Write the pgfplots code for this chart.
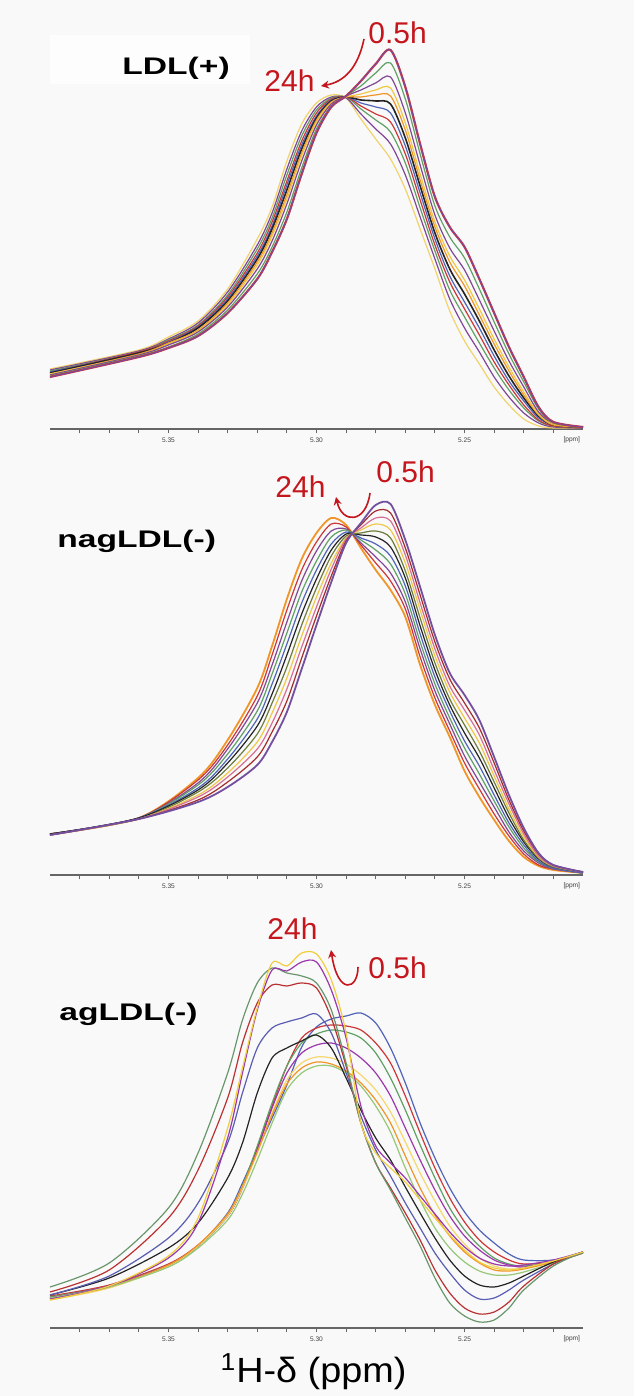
\documentclass[border=0pt]{standalone}
\usepackage{fontspec}
\setmainfont{Liberation Sans}
\usepackage{graphicx}
\usepackage{pgfplots}
\usepackage{pgfplotstable}
\pgfplotsset{compat=1.18}
\usetikzlibrary{arrows.meta}

\definecolor{bg}{RGB}{249,249,249}
\definecolor{box}{RGB}{253,253,253}
\definecolor{lab}{RGB}{196,22,28}
\definecolor{cpur}{RGB}{130,70,150}
\definecolor{cred}{RGB}{205,55,55}
\definecolor{cgrn}{RGB}{95,160,100}
\definecolor{cyel}{RGB}{238,200,70}
\definecolor{cora}{RGB}{240,150,40}
\definecolor{cblu}{RGB}{80,100,185}
\definecolor{cblk}{RGB}{35,35,35}
\definecolor{cpnk}{RGB}{215,110,150}
\definecolor{colv}{RGB}{110,125,60}
\definecolor{clgr}{RGB}{150,200,120}
\definecolor{cpyl}{RGB}{245,215,110}

% LDL(+): c0 = 0.5h ... c10 = 24h
\pgfplotstableread{
x c0 c1 c2 c3 c4 c5 c6 c7 c8 c9 c10
5.39 52 53 54 55 55 56 57 57 58 59 60
5.36 72 73 74 74 75 76 76 77 77 78 79
5.35 81 82 84 85 86 86 87 88 89 90 92
5.34 93 95 97 98 99 101 102 103 104 106 108
5.33 116 119 122 124 126 128 130 132 134 137 140
5.32 150 155 160 164 167 170 173 176 180 184 190
5.315 177 182 188 193 196 200 203 207 211 216 222
5.31 210 217 225 230 234 239 244 248 254 260 268
5.305 255 261 268 273 276 280 284 288 293 298 305
5.30 296 300 304 307 309 311 313 316 319 322 326
5.295 322 323 325 326 327 328 329 330 331 332 334
5.29 333 333 333 332 332 332 332 332 332 331 331
5.285 348 343 339 335 332 329 326 323 320 315 310
5.28 365 356 346 339 334 328 322 315 309 300 290
5.275 379 366 352 341 333 325 316 307 297 285 270
5.27 342 330 316 306 299 291 283 275 266 254 240
5.265 285 275 264 255 249 243 236 229 221 212 200
5.26 232 223 214 207 202 196 190 184 178 170 160
5.255 202 192 181 173 167 160 153 147 139 130 118
5.25 182 171 159 149 143 135 127 120 112 101 88
5.245 150 140 129 120 114 108 101 94 86 77 65
5.24 116 107 98 90 85 79 73 67 61 52 42
5.235 82 75 68 62 58 53 48 44 39 32 24
5.23 52 47 42 37 34 31 28 24 21 16 10
5.225 22 20 17 15 14 13 11 9 8 6 3
5.22 7 6 6 5 4 4 4 3 3 2 1
5.21 2 2 2 2 2 2 1 1 1 1 1
}\tabA

% nagLDL(-)
\pgfplotstableread{
x c0 c1 c2 c3 c4 c5 c6 c7 c8 c9 c10
5.39 40 40 40 40 40 41 41 41 41 41 41
5.36 56 56 56 56 56 57 57 57 57 57 57
5.34 73 75 78 80 83 85 87 90 92 95 97
5.33 88 93 98 102 107 112 116 121 126 130 135
5.32 110 118 126 133 141 149 156 164 172 179 187
5.315 133 143 152 162 172 181 191 201 210 220 229
5.31 163 174 186 197 208 220 231 242 253 265 276
5.305 206 217 228 239 250 261 272 283 294 305 316
5.30 250 259 268 278 287 296 305 314 324 333 342
5.295 293 299 306 312 319 325 331 338 344 351 357
5.29 332 334 336 337 339 341 343 345 346 348 350
5.285 352 350 347 345 342 340 337 335 332 330 327
5.28 370 364 357 351 344 338 331 325 318 312 305
5.275 371 362 354 345 337 328 319 311 302 294 285
5.27 335 327 320 312 304 297 289 281 273 266 258
5.265 288 280 272 265 257 249 241 233 226 218 210
5.26 240 233 226 219 212 205 198 191 184 177 170
5.255 202 196 189 183 176 170 164 157 151 144 138
5.25 180 172 165 157 150 142 134 127 119 112 104
5.245 155 147 140 132 124 117 109 101 93 86 78
5.24 118 112 105 99 93 87 80 74 68 61 55
5.235 80 75 71 66 62 57 52 48 43 39 34
5.23 47 44 41 38 35 33 30 27 24 21 18
5.225 22 21 19 18 17 16 14 13 12 10 9
5.22 10 10 9 9 8 8 7 7 6 6 5
5.21 3 3 3 3 3 3 2 2 2 2 2
}\tabB

% agLDL(-)
\pgfplotstableread{
x h i j k l m n g f d c b a
5.39 30 32 31 30 28 29 30 33 33 36 41 29 28
5.37 42 43 42 42 40 41 41 50 52 58 65 42 42
5.35 62 64 63 63 62 63 61 80 90 110 120 70 72
5.34 82 83 82 82 82 83 80 105 125 158 175 105 110
5.33 115 112 112 112 112 114 108 150 185 230 255 190 200
5.325 145 140 142 140 140 142 134 185 235 285 308 255 260
5.32 178 180 182 178 175 176 168 235 280 325 345 318 320
5.315 210 222 225 220 215 213 205 270 300 343 360 358 365
5.31 243 262 262 255 248 244 238 280 306 342 355 357 362
5.305 281 290 285 275 265 260 255 287 310 345 352 366 375
5.30 301 300 294 283 271 266 262 293 314 340 345 366 374
5.295 309 303 298 285 270 264 262 280 295 310 318 338 348
5.29 312 302 296 280 264 257 255 250 255 262 265 290 295
5.285 315 298 290 270 253 245 242 218 212 205 205 222 205
5.28 305 285 275 255 238 228 222 190 178 165 165 182 175
5.275 280 265 250 232 216 205 196 168 152 140 138 165 160
5.27 245 232 218 200 186 172 160 141 125 115 110 150 146
5.265 205 195 183 168 155 140 128 115 100 88 82 132 128
5.26 170 160 150 138 127 113 100 90 75 58 50 114 110
5.255 140 130 120 112 102 92 80 68 55 35 25 96 93
5.25 116 106 98 92 84 76 66 52 38 20 12 81 78
5.245 98 88 82 78 70 65 57 43 29 14 6 70 66
5.24 85 76 70 68 62 58 53 41 30 16 8 64 60
5.235 74 68 64 63 59 57 53 45 38 26 20 62 58
5.23 68 64 62 61 60 59 56 52 48 42 38 63 60
5.22 68 66 66 66 66 66 65 66 64 64 62 68 67
5.21 75 75 75 76 76 76 76 76 76 76 76 76 76
}\tabC

\pgfplotsset{
  nmr/.style={
    scale only axis, width=266.5pt, height=200pt,
    xmin=5.21, xmax=5.39, ymin=0, ymax=400, x dir=reverse,
    axis x line=bottom, axis y line=none,
    axis line style={-, draw=black!60, line width=0.6pt},
    xtick={5.25,5.30,5.35},
    minor xtick={5.22,5.23,5.24,5.26,5.27,5.28,5.29,5.31,5.32,5.33,5.34,5.36,5.37,5.38},
    tick align=outside, major tick length=2.2pt, minor tick length=2.2pt,
    tick style={black!60, line width=0.5pt},
    /pgf/number format/assume math mode=true,
    xticklabel style={font=\fontsize{3.3}{4}\selectfont, text=black!75, inner sep=0pt, yshift=-2pt,
      /pgf/number format/fixed, /pgf/number format/fixed zerofill, /pgf/number format/precision=2},
    clip=false, no marks,
    every axis plot/.append style={smooth, line width=0.6pt},
  },
}
\tikzset{ppm/.style={font=\fontsize{3.3}{4}\selectfont, text=black!75, inner sep=0pt}}

\begin{document}
\begin{tikzpicture}
\fill[bg] (0,0) rectangle (317pt,698pt);
\useasboundingbox (0,0) rectangle (317pt,698pt);
\fill[box] (25pt,656pt) rectangle (125pt,680.5pt);

% ---- LDL(+)
\begin{axis}[nmr, at={(25pt,483.5pt)}, anchor=south west]
  \addplot[cyel!80] table[x=x,y=c10]{\tabA};
  \addplot[cpur] table[x=x,y=c9]{\tabA};
  \addplot[cgrn] table[x=x,y=c8]{\tabA};
  \addplot[cred] table[x=x,y=c7]{\tabA};
  \addplot[cblu] table[x=x,y=c6]{\tabA};
  \addplot[cblk, line width=0.8pt] table[x=x,y=c5]{\tabA};
  \addplot[cora] table[x=x,y=c4]{\tabA};
  \addplot[cyel] table[x=x,y=c3]{\tabA};
  \addplot[cpur] table[x=x,y=c2]{\tabA};
  \addplot[cgrn] table[x=x,y=c1]{\tabA};
  \addplot[cred, line width=1.1pt] table[x=x,y=c0]{\tabA};
  \addplot[cpur, line width=0.6pt] table[x=x,y=c0]{\tabA};
  \node[ppm, yshift=-5.5pt] at (rel axis cs:0.979,0) {[ppm]};
\end{axis}

% ---- nagLDL(-)
\begin{axis}[nmr, at={(25pt,260.5pt)}, anchor=south west]
  \addplot[cora, line width=0.9pt] table[x=x,y=c10]{\tabB};
  \addplot[cred] table[x=x,y=c9]{\tabB};
  \addplot[cpur] table[x=x,y=c8]{\tabB};
  \addplot[cgrn] table[x=x,y=c7]{\tabB};
  \addplot[cblu] table[x=x,y=c6]{\tabB};
  \addplot[cblk] table[x=x,y=c5]{\tabB};
  \addplot[colv] table[x=x,y=c4]{\tabB};
  \addplot[cyel] table[x=x,y=c3]{\tabB};
  \addplot[cpnk] table[x=x,y=c2]{\tabB};
  \addplot[cred!80!black] table[x=x,y=c1]{\tabB};
  \addplot[cpur!70!cblu, line width=0.9pt] table[x=x,y=c0]{\tabB};
  \node[ppm, yshift=-5.5pt] at (rel axis cs:0.979,0) {[ppm]};
\end{axis}

% ---- agLDL(-)
\begin{axis}[nmr, at={(25pt,34pt)}, anchor=south west]
  \addplot[cblu] table[x=x,y=h]{\tabC};
  \addplot[cred] table[x=x,y=i]{\tabC};
  \addplot[cgrn] table[x=x,y=j]{\tabC};
  \addplot[cpur!80!magenta] table[x=x,y=k]{\tabC};
  \addplot[cpyl] table[x=x,y=l]{\tabC};
  \addplot[cora] table[x=x,y=m]{\tabC};
  \addplot[clgr] table[x=x,y=n]{\tabC};
  \addplot[cblk] table[x=x,y=g]{\tabC};
  \addplot[cblu!80!cpur] table[x=x,y=f]{\tabC};
  \addplot[cred!90!black] table[x=x,y=d]{\tabC};
  \addplot[cgrn!70!gray] table[x=x,y=c]{\tabC};
  \addplot[cpur!80!magenta] table[x=x,y=b]{\tabC};
  \addplot[cyel!90!yellow] table[x=x,y=a]{\tabC};
  \node[ppm, yshift=-5.5pt] at (rel axis cs:0.979,0) {[ppm]};
\end{axis}

% panel names
\node[anchor=base west, inner sep=0pt] at (61pt,660.5pt) {\scalebox{1.4}[1]{\fontsize{12}{12}\selectfont\bfseries LDL(+)}};
\node[anchor=base west, inner sep=0pt] at (28.5pt,424pt) {\scalebox{1.4}[1]{\fontsize{12}{12}\selectfont\bfseries nagLDL(-)}};
\node[anchor=base west, inner sep=0pt] at (29.5pt,187.5pt) {\scalebox{1.4}[1]{\fontsize{12}{12}\selectfont\bfseries agLDL(-)}};

% time labels and arrows
\begin{scope}[lab, font=\fontsize{15}{15}\selectfont]
  \node[anchor=base west, inner sep=0pt] at (184pt,676pt) {0.5h};
  \node[anchor=base west, inner sep=0pt] at (132pt,652pt) {24h};
  \draw[line width=0.8pt, -{Stealth[length=4pt,width=4pt]}] (182pt,678.5pt) .. controls (179pt,664pt) and (172pt,657pt) .. (160.5pt,655pt);

  \node[anchor=base west, inner sep=0pt] at (188pt,456.5pt) {0.5h};
  \node[anchor=base west, inner sep=0pt] at (137.5pt,449pt) {24h};
  \draw[line width=0.8pt, -{Stealth[length=4pt,width=4pt]}] (185pt,451.5pt) .. controls (183pt,436pt) and (171pt,436pt) .. (168pt,449.5pt);

  \node[anchor=base west, inner sep=0pt] at (133.5pt,228pt) {24h};
  \node[anchor=base west, inner sep=0pt] at (184pt,208.5pt) {0.5h};
  \draw[line width=0.8pt, -{Stealth[length=4pt,width=4pt]}] (179pt,214.5pt) .. controls (179pt,203pt) and (169pt,200pt) .. (165.5pt,223pt);
\end{scope}

% axis title
\node[anchor=base, inner sep=0pt] at (156.75pt,6.5pt) {\scalebox{1.08}[1]{\fontsize{17.5}{17.5}\selectfont\textsuperscript{1}H-δ (ppm)}};
\end{tikzpicture}
\end{document}
